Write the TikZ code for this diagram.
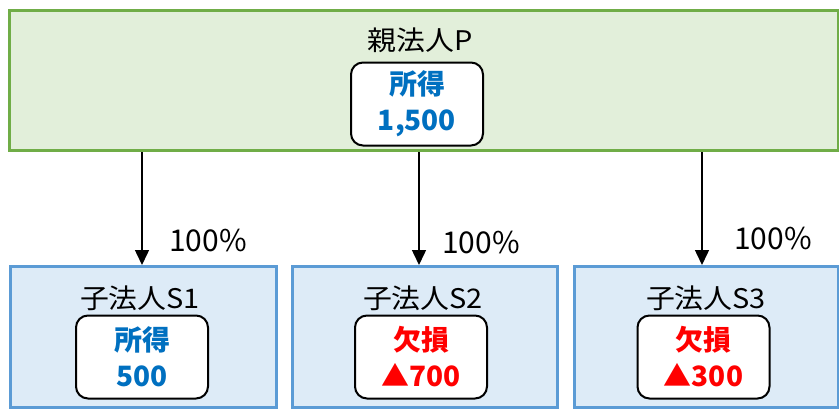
\documentclass[tikz,border=0pt]{standalone}
\usepackage{fontspec}
\usetikzlibrary{arrows.meta}
\newfontfamily\jp[FakeStretch=1.07]{Noto Sans CJK JP}
\newfontfamily\jpv[FakeStretch=1.0]{Noto Sans CJK JP}
\definecolor{pfill}{HTML}{E2EFDA}
\definecolor{pline}{HTML}{70AD47}
\definecolor{sfill}{HTML}{DDEBF7}
\definecolor{sline}{HTML}{5B9BD5}
\definecolor{tblue}{HTML}{0070C0}
\definecolor{tred}{HTML}{FF0000}
\tikzset{
  x=1pt, y=1pt,
  parentbox/.style={draw=pline, fill=pfill, line width=3pt, minimum width=829pt, minimum height=140pt, inner sep=0pt, anchor=north west},
  childbox/.style={draw=sline, fill=sfill, line width=3pt, minimum height=141pt, inner sep=0pt, anchor=north west},
  valbox/.style={draw=black, fill=white, line width=2pt, rounded corners=12pt, minimum width=132pt, minimum height=83pt, inner sep=0pt, align=center, font=\jpv\fontsize{28}{36}\selectfont\bfseries},
  titletext/.style={font=\jp\fontsize{27}{30}\selectfont, inner sep=0pt},
  pcttext/.style={font=\jpv\fontsize{30}{32}\selectfont, inner sep=0pt},
  arr/.style={line width=1.5pt, -{Triangle[width=14pt,length=15pt]}},
}
\begin{document}
\begin{tikzpicture}
\useasboundingbox (0,0) rectangle (839,-408);
% parent
\node[parentbox] (P) at (8,-9) {};
\node[titletext] (Pt) at (420,-40) {親法人P};
\node[valbox, text=tblue] (Pv) at (417,-104) {所得\\1,500};
% children
\node[childbox, minimum width=266pt] (S1) at (9,-265) {};
\node[childbox, minimum width=265pt] (S2) at (291,-265) {};
\node[childbox, minimum width=264pt] (S3) at (573,-265) {};
\node[titletext] (S1t) at (140,-298) {子法人S1};
\node[titletext] (S2t) at (423,-298) {子法人S2};
\node[titletext] (S3t) at (706,-298) {子法人S3};
\node[valbox, text=tblue] (S1v) at (142,-357) {所得\\500};
\node[valbox, text=tred] (S2v) at (421,-357) {欠損\\▲700};
\node[valbox, text=tred] (S3v) at (703.5,-357) {欠損\\▲300};
% arrows
\coordinate (a1) at (142,-265);
\coordinate (a2) at (419,-265);
\coordinate (a3) at (702,-265);
\draw[arr] (P.south -| a1) -- (a1);
\draw[arr] (P.south -| a2) -- (a2);
\draw[arr] (P.south -| a3) -- (a3);
\node[pcttext] (l1) at (208,-240) {100\%};
\node[pcttext] (l2) at (481,-242) {100\%};
\node[pcttext] (l3) at (773,-238) {100\%};
\end{tikzpicture}
\end{document}
